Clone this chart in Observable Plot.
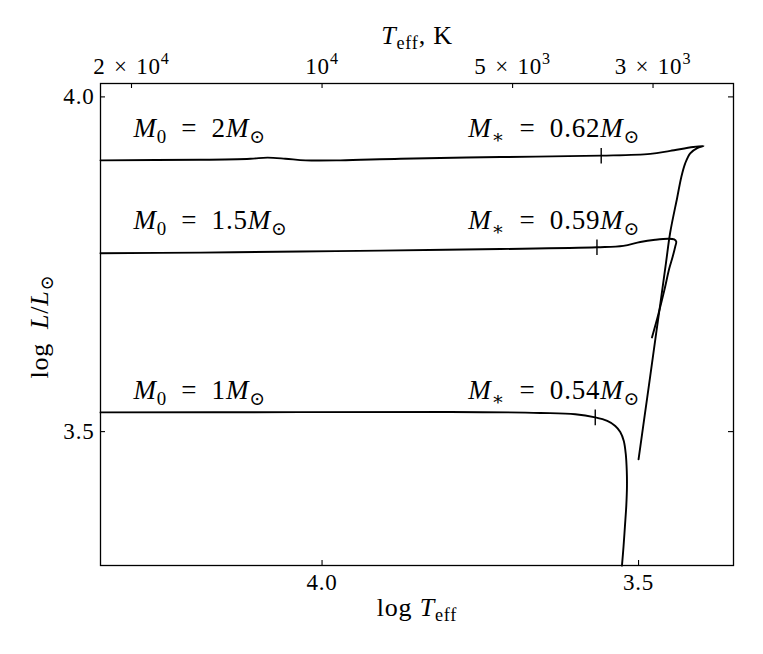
<!DOCTYPE html>
<html>
<head>
<meta charset="utf-8">
<script src="https://cdn.jsdelivr.net/npm/d3@7"></script>
<script src="https://cdn.jsdelivr.net/npm/@observablehq/plot@0.6"></script>
<style>
  html, body { margin: 0; padding: 0; background: #fff; }
  #chart { width: 763px; height: 654px; }
  #chart svg text { letter-spacing: 0.8px; }
</style>
</head>
<body>
<div id="chart"></div>
<script>
// ---------- data ----------
const xTicks = [4.0, 3.5];                 // log Teff ticks (bottom)
const yTicks = [4.0, 3.5];                 // log L ticks
const teffTicks = [20000, 10000, 5000, 3000];   // Teff ticks (top), K
const teffTickLabels = ["2\u2004×\u200410^{4}", "10^{4}", "5\u2004×\u200410^{3}", "3\u2004×\u200410^{3}"];

const initialMass = [2, 1.5, 1];           // M0 / Msun
const finalMass = [0.62, 0.59, 0.54];      // M* / Msun

// track M0 = 2
const logT_2 = [4.350, 4.192, 4.113, 4.086, 4.058, 4.026, 3.971, 3.876, 3.718, 3.559, 3.4815, 3.450, 3.4136, 3.3974,
                3.4073, 3.4184, 3.4263, 3.4326, 3.4389, 3.450, 3.4566, 3.4638, 3.4716, 3.4815, 3.4904, 3.500];
const logL_2 = [3.9052, 3.9062, 3.9077, 3.9092, 3.9077, 3.9052, 3.9052, 3.9077, 3.9101, 3.9122, 3.9149, 3.9194, 3.9251, 3.9266,
                3.9234, 3.9157, 3.9007, 3.8797, 3.8498, 3.7974, 3.7525, 3.7031, 3.6507, 3.5833, 3.5234, 3.4586];
// track M0 = 1.5
const logT_15 = [4.350, 4.192, 4.034, 3.908, 3.718, 3.5657, 3.5241, 3.4973, 3.4736, 3.4531, 3.4436, 3.4405,
                 3.442, 3.446, 3.4515, 3.4594, 3.4689, 3.4788];
const logL_15 = [3.7664, 3.7674, 3.769, 3.7704, 3.7727, 3.7754, 3.7775, 3.7832, 3.7865, 3.7881, 3.7872, 3.7839,
                 3.7764, 3.7615, 3.7435, 3.7106, 3.6746, 3.6407];
// track M0 = 1
const logT_1 = [4.350, 4.034, 3.7973, 3.6552, 3.600, 3.5684, 3.5494, 3.5368, 3.5289, 3.5233, 3.5202, 3.5186,
                3.5183, 3.5194, 3.5215, 3.5237, 3.5262];
const logL_1 = [3.5287, 3.5291, 3.5294, 3.5279, 3.526, 3.5212, 3.516, 3.5085, 3.4995, 3.486, 3.4666, 3.4411,
                3.4187, 3.3887, 3.3588, 3.3288, 3.2999];

// "|" markers on each track (where M* is reached)
const markLogT = [3.559, 3.5657, 3.5684];
const markLogL = [3.912, 3.7754, 3.5212];

// annotation anchors (data units)
const labelLogL = [3.9401, 3.8026, 3.549];
const labelLogT_M0 = 4.298;
const labelLogT_Mstar = 3.769;

// ---------- tables ----------
const trackT = [logT_2, logT_15, logT_1];
const trackL = [logL_2, logL_15, logL_1];
const trackRows = initialMass.flatMap((m, k) => trackT[k].map((t, i) => ({mass: m, logT: t, logL: trackL[k][i]})));
const markRows = initialMass.map((m, k) => ({mass: m, logT: markLogT[k], logL: markLogL[k]}));
const EQ = "\u2002=\u2002";
const labelRows = initialMass.flatMap((m, k) => [
  {logT: labelLogT_M0, logL: labelLogL[k], text: `*M*_{0}${EQ}${m}*M*_{⊙}`},
  {logT: labelLogT_Mstar, logL: labelLogL[k], text: `*M*_{∗}${EQ}${finalMass[k].toFixed(2)}*M*_{⊙}`}
]);

// ---------- layout ----------
const W = 763, H = 654, mL = 100, mR = 30, mT = 83, mB = 89;
const innerW = W - mL - mR, innerH = H - mT - mB, tickLen = 5;

const bar = {draw(ctx, size) { const h = Math.sqrt(size / Math.PI); ctx.moveTo(0, -h); ctx.lineTo(0, h); }};
const teffLabelOf = d => teffTickLabels[teffTicks.findIndex(t => Math.abs(Math.log10(t) - d) < 1e-9)];

const plot = Plot.plot({
  width: W, height: H,
  marginLeft: mL, marginRight: mR, marginTop: mT, marginBottom: mB,
  style: {fontFamily: "'Liberation Serif', 'DejaVu Serif', serif", fontSize: "23px", color: "#000", background: "#fff"},
  x: {domain: [4.35, 3.35]},
  y: {domain: [3.30, 4.02]},
  marks: [
    Plot.line(trackRows, {x: "logT", y: "logL", z: "mass", stroke: "#000", strokeWidth: 1.9, curve: "catmull-rom"}),
    Plot.dot(markRows, {x: "logT", y: "logL", symbol: bar, r: 7.8, stroke: "#000", fill: "none", strokeWidth: 1.4}),
    Plot.text(labelRows, {x: "logT", y: "logL", text: "text", textAnchor: "start", lineAnchor: "bottom", fontSize: 27, fill: "#000"}),
    Plot.frame({stroke: "#000", strokeWidth: 1.3}),
    Plot.tickX(xTicks, {x: d => d, insetTop: innerH - tickLen, stroke: "#000", strokeWidth: 1.1}),
    Plot.tickX(teffTicks.map(Math.log10), {x: d => d, insetBottom: innerH - tickLen, stroke: "#000", strokeWidth: 1.1}),
    Plot.tickY(yTicks, {y: d => d, insetRight: innerW - tickLen, stroke: "#000", strokeWidth: 1.1}),
    Plot.tickY(yTicks, {y: d => d, insetLeft: innerW - tickLen, stroke: "#000", strokeWidth: 1.1}),
    Plot.axisX(xTicks, {anchor: "bottom", tickSize: 0, tickPadding: 8, tickFormat: d => d.toFixed(1), label: null, fontSize: 23}),
    Plot.axisX(teffTicks.map(Math.log10), {anchor: "top", tickSize: 0, tickPadding: 10, tickFormat: teffLabelOf, label: null, fontSize: 23}),
    Plot.axisY(yTicks, {anchor: "left", tickSize: 0, tickPadding: 6, tickFormat: d => d.toFixed(1), label: null, fontSize: 23}),
    Plot.text(["log *T*_{eff}"], {frameAnchor: "bottom", dy: 50, textAnchor: "middle", lineAnchor: "bottom", fontSize: 26, fill: "#000"}),
    Plot.text(["*T*_{eff}, K"], {frameAnchor: "top", dy: -40, textAnchor: "middle", lineAnchor: "bottom", fontSize: 26, fill: "#000"}),
    Plot.text(["log\u2002*L*/*L*_{⊙}"], {frameAnchor: "left", dx: -53, dy: 2, rotate: -90, textAnchor: "middle", lineAnchor: "bottom", fontSize: 26, fill: "#000"})
  ]
});

document.getElementById("chart").append(plot);

// ---------- rich text: *italic*, _{sub}, ^{sup} ----------
function parseRich(s) {
  const segs = []; let buf = "", italic = false, i = 0;
  const flush = () => { if (buf) segs.push({t: buf, italic, pos: 0}); buf = ""; };
  while (i < s.length) {
    const c = s[i];
    if (c === "*") { flush(); italic = !italic; i++; }
    else if ((c === "_" || c === "^") && s[i + 1] === "{") {
      flush();
      const j = s.indexOf("}", i);
      segs.push({t: s.slice(i + 2, j), italic: false, pos: c === "_" ? 1 : -1});
      i = j + 1;
    } else { buf += c; i++; }
  }
  flush();
  return segs;
}
function richify(el) {
  const s = el.textContent;
  if (!/[*_^]/.test(s)) return;
  const fs = parseFloat(getComputedStyle(el).fontSize) || 23;
  const segs = parseRich(s);
  el.textContent = "";
  let shift = 0;
  for (const g of segs) {
    const t = document.createElementNS("http://www.w3.org/2000/svg", "tspan");
    const target = g.pos === 1 ? 0.22 * fs : g.pos === -1 ? -0.42 * fs : 0;
    if (target !== shift) { t.setAttribute("dy", (target - shift).toFixed(2)); shift = target; }
    if (g.pos) t.setAttribute("font-size", (0.7 * fs).toFixed(2));
    if (g.italic) t.setAttribute("font-style", "italic");
    t.textContent = g.t;
    el.appendChild(t);
  }
}
plot.querySelectorAll("text").forEach(richify);
</script>
</body>
</html>
